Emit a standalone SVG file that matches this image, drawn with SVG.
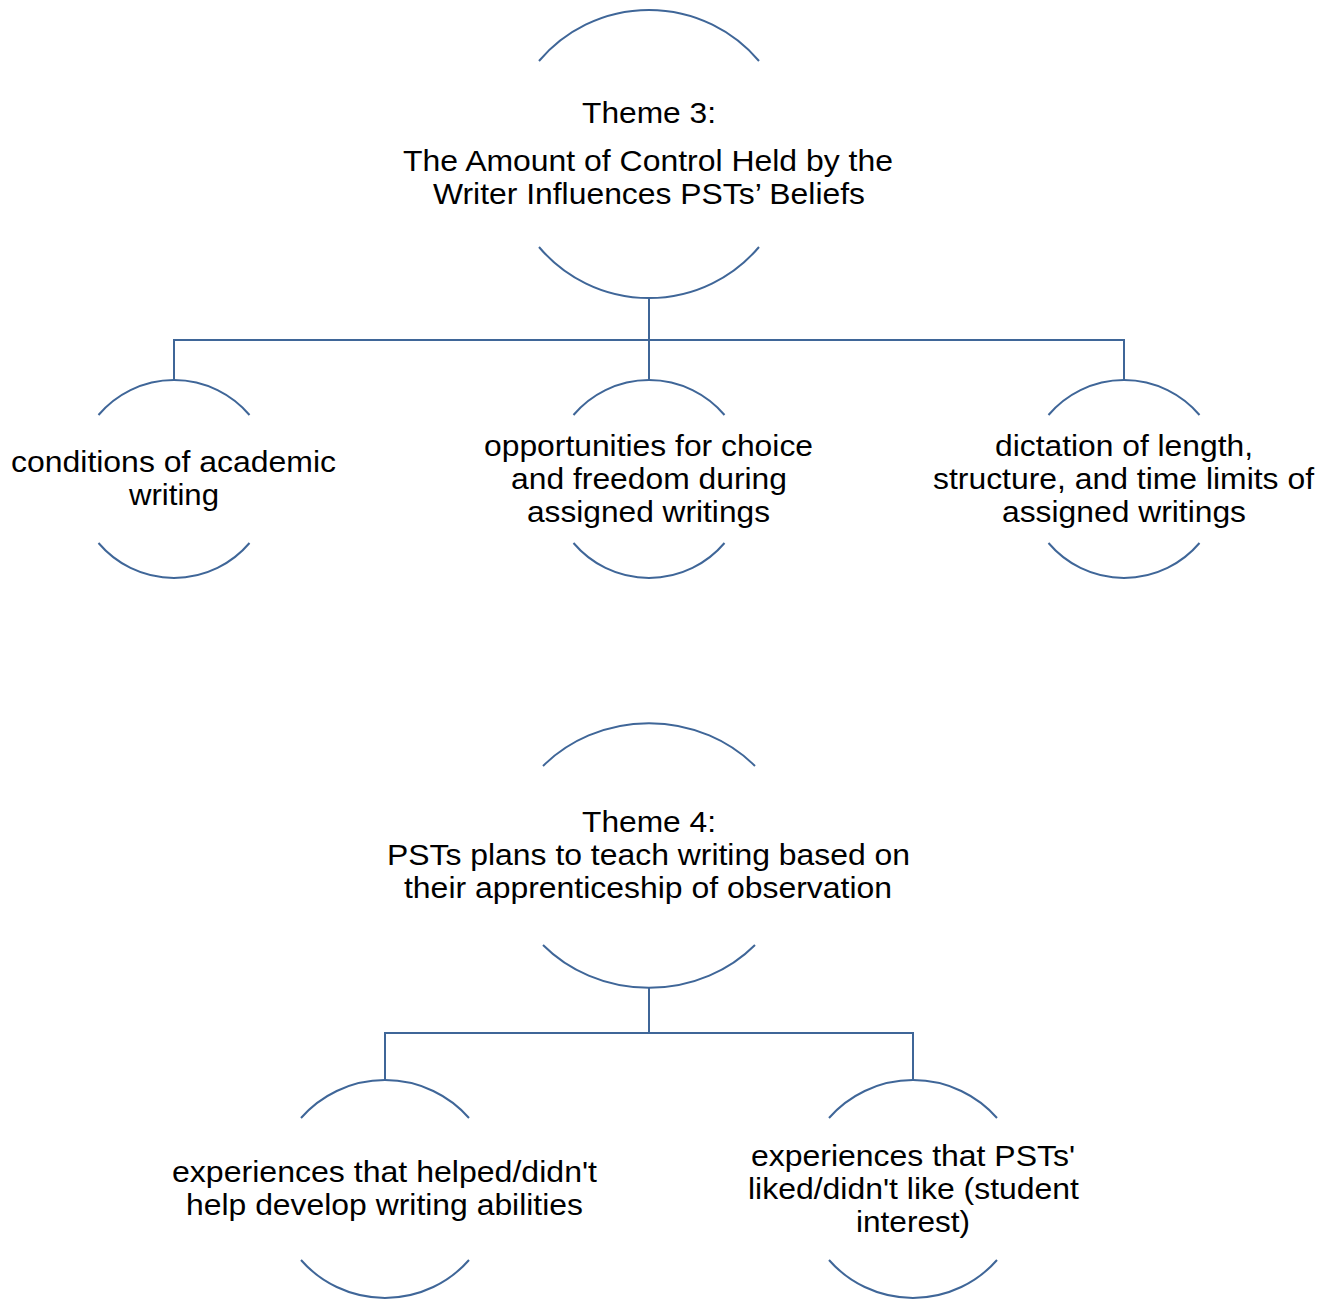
<svg xmlns="http://www.w3.org/2000/svg" width="1335" height="1302" viewBox="0 0 1335 1302">
  <style>
    .arc { fill: none; stroke: #3F6698; stroke-width: 2; }
    .link { fill: none; stroke: #3F6698; stroke-width: 2; }
    text { font-family: "Liberation Sans", Arial, sans-serif; font-size: 30px; fill: #000; text-anchor: middle; }
  </style>
  <rect width="1335" height="1302" fill="#fff"/>

  <!-- connectors -->
  <g id="connectors">
    <path class="link" d="M649,298 V340 M174,380 V340 H1124 V380 M649,340 V380"/>
    <path class="link" d="M649,988 V1033 M385,1080 V1033 H913 V1080"/>
  </g>

  <!-- Theme 3 -->
  <g id="theme3">
    <path class="arc" d="M539,61 A144,144 0 0 1 759,61"/>
    <path class="arc" d="M539,247 A144,144 0 0 0 759,247"/>
    <text x="649" y="123" textLength="134" lengthAdjust="spacingAndGlyphs">Theme 3:</text>
    <text x="648" y="171" textLength="490" lengthAdjust="spacingAndGlyphs">The Amount of Control Held by the</text>
    <text x="649" y="204" textLength="432" lengthAdjust="spacingAndGlyphs">Writer Influences PSTs’ Beliefs</text>
  </g>

  <g id="conditions">
    <path class="arc" d="M98.5,415 A99,99 0 0 1 249.5,415"/>
    <path class="arc" d="M98.5,543 A99,99 0 0 0 249.5,543"/>
    <text x="173.5" y="472" textLength="325" lengthAdjust="spacingAndGlyphs">conditions of academic</text>
    <text x="174" y="505" textLength="90" lengthAdjust="spacingAndGlyphs">writing</text>
  </g>

  <g id="opportunities">
    <path class="arc" d="M573.5,415 A99,99 0 0 1 724.5,415"/>
    <path class="arc" d="M573.5,543 A99,99 0 0 0 724.5,543"/>
    <text x="648.5" y="456" textLength="329" lengthAdjust="spacingAndGlyphs">opportunities for choice</text>
    <text x="649" y="489" textLength="276" lengthAdjust="spacingAndGlyphs">and freedom during</text>
    <text x="648.5" y="522" textLength="243" lengthAdjust="spacingAndGlyphs">assigned writings</text>
  </g>

  <g id="dictation">
    <path class="arc" d="M1048.5,415 A99,99 0 0 1 1199.5,415"/>
    <path class="arc" d="M1048.5,543 A99,99 0 0 0 1199.5,543"/>
    <text x="1124" y="456" textLength="258" lengthAdjust="spacingAndGlyphs">dictation of length,</text>
    <text x="1123.5" y="489" textLength="381" lengthAdjust="spacingAndGlyphs">structure, and time limits of</text>
    <text x="1124" y="522" textLength="244" lengthAdjust="spacingAndGlyphs">assigned writings</text>
  </g>

  <!-- Theme 4 -->
  <g id="theme4">
    <path class="arc" d="M543,766 A144,132.5 0 0 1 755,766"/>
    <path class="arc" d="M543,945 A144,132.5 0 0 0 755,945"/>
    <text x="649" y="832" textLength="134" lengthAdjust="spacingAndGlyphs">Theme 4:</text>
    <text x="648.5" y="865" textLength="523" lengthAdjust="spacingAndGlyphs">PSTs plans to teach writing based on</text>
    <text x="648" y="898" textLength="488" lengthAdjust="spacingAndGlyphs">their apprenticeship of observation</text>
  </g>

  <g id="helped">
    <path class="arc" d="M301,1118 A111,109.5 0 0 1 469,1118"/>
    <path class="arc" d="M301,1260 A111,109.5 0 0 0 469,1260"/>
    <text x="384.5" y="1182" textLength="425" lengthAdjust="spacingAndGlyphs">experiences that helped/didn't</text>
    <text x="384.5" y="1215" textLength="397" lengthAdjust="spacingAndGlyphs">help develop writing abilities</text>
  </g>

  <g id="liked">
    <path class="arc" d="M829,1118 A111,109.5 0 0 1 997,1118"/>
    <path class="arc" d="M829,1260 A111,109.5 0 0 0 997,1260"/>
    <text x="913" y="1166" textLength="324" lengthAdjust="spacingAndGlyphs">experiences that PSTs'</text>
    <text x="913.5" y="1199" textLength="331" lengthAdjust="spacingAndGlyphs">liked/didn't like (student</text>
    <text x="913" y="1232" textLength="114" lengthAdjust="spacingAndGlyphs">interest)</text>
  </g>
</svg>
